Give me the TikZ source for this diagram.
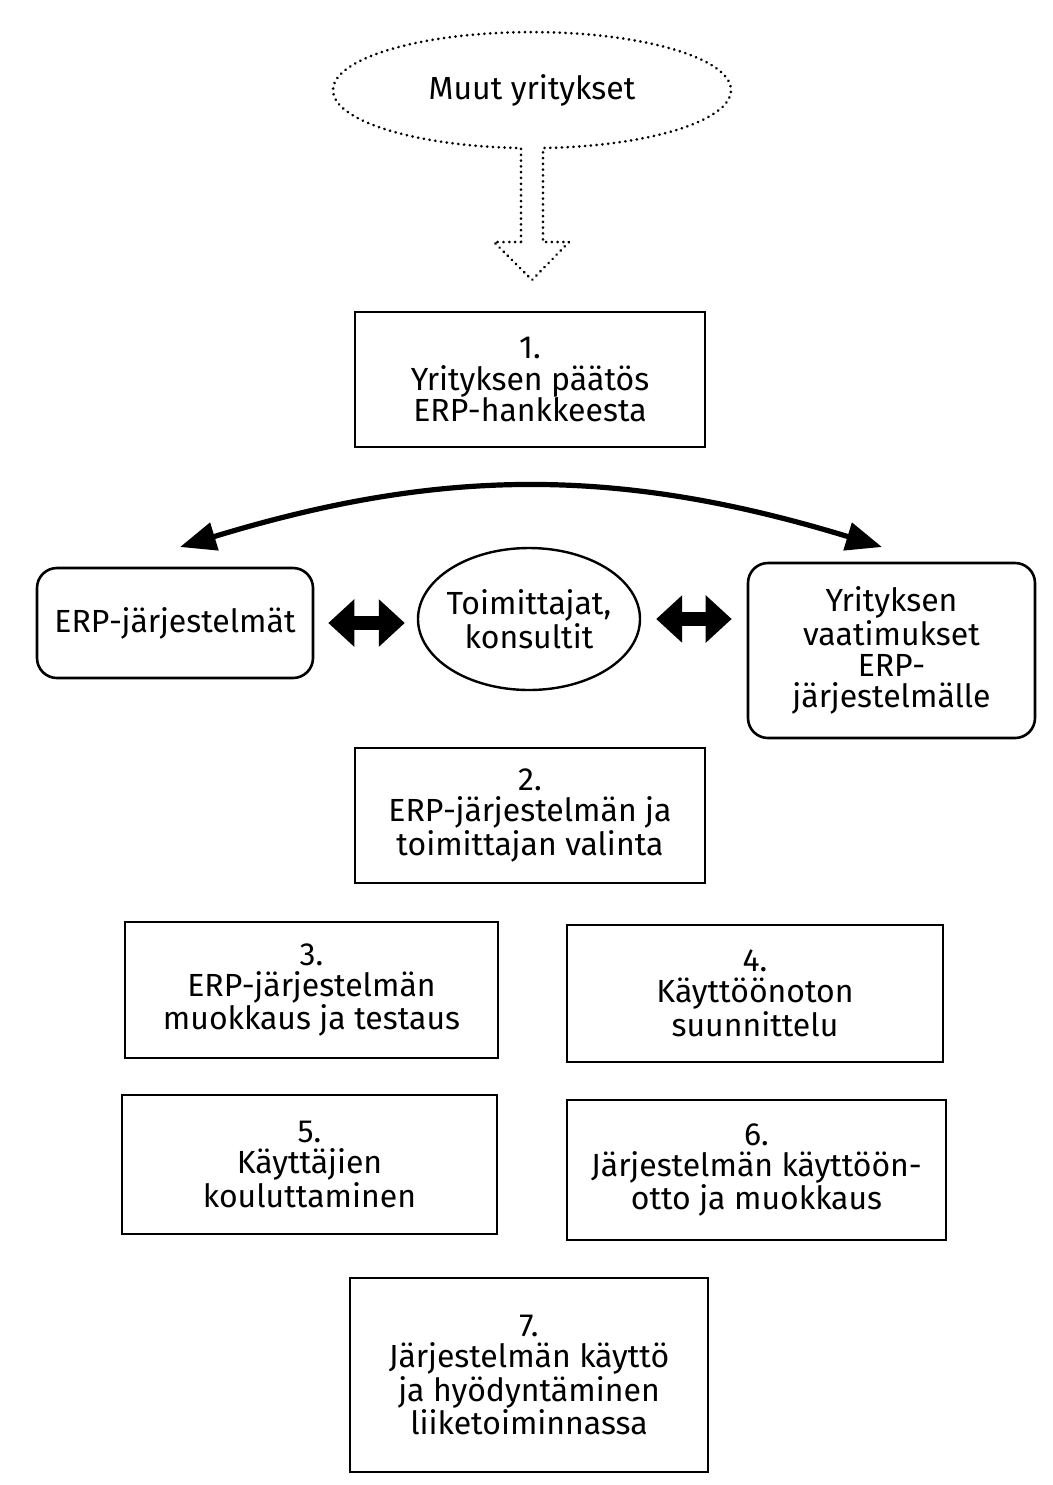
\documentclass[tikz,border=0pt]{standalone}
\usepackage{fontspec}
\setmainfont{Fira Sans}
\usetikzlibrary{shapes.geometric, arrows.meta}

\begin{document}
\begin{tikzpicture}[x=0.5pt, y=-0.5pt,
		every node/.style={font=\fontsize{16}{15.6}\selectfont, align=center},
		stepbox/.style={draw, line width=1.3pt, inner sep=0pt},
		roundbox/.style={stepbox, rounded corners=10pt},
		dots/.style={line width=1.4pt, dash pattern=on 0.1pt off 2.8pt, line cap=round},
		fatarrow/.style={line width=7pt, {Triangle[length=13pt,width=23pt]}-{Triangle[length=13pt,width=23pt]}},
		bowarrow/.style={line width=2.6pt, {Triangle[length=18pt,width=14pt]}-{Triangle[length=18pt,width=14pt]}}]
		\useasboundingbox (0,0) rectangle (1053,1485);

		\node[ellipse, minimum width=199pt, minimum height=58pt, inner sep=0pt] (muut) at (532,90) {Muut yritykset};
		\draw[dots] (521,242) -- (494,242) -- (532,280) -- (569,242) -- (543,242) -- (543,148)
			arc[start angle=86.83, end angle=-266.83, x radius=199, y radius=58] -- cycle;

		\foreach \nm/\x/\y/\w/\h/\txt in {
				s1/530/379.5/175/67.5/{1.\\Yrityksen päätös\\ERP-hankkeesta},
				s2/530/815.5/175/67.5/{2.\\ERP-järjestelmän ja\\toimittajan valinta},
				s3/311.5/990/186.5/68/{3.\\ERP-järjestelmän\\muokkaus ja testaus},
				s4/755/993.5/188/68.5/{4.\\Käyttöönoton\\suunnittelu},
				s5/309.5/1164.5/187.5/69.5/{5.\\Käyttäjien\\kouluttaminen},
				s6/756.5/1170/189.5/70/{6.\\Järjestelmän käyttöön-\\otto ja muokkaus},
				s7/529/1375/179/97/{7.\\Järjestelmän käyttö\\ja hyödyntäminen\\liiketoiminnassa}}{
			\node[stepbox, minimum width=\w pt, minimum height=\h pt] (\nm) at (\x,\y) {\txt};
		}

		\node[roundbox, minimum width=138pt, minimum height=55pt] (erp) at (175,623) {ERP-järjestelmät};
		\node[draw, ellipse, line width=1.2pt, minimum width=111pt, minimum height=71pt, inner sep=-6pt] (toim) at (529,619) {Toimittajat,\\konsultit};
		\node[roundbox, minimum width=143.5pt, minimum height=87.5pt] (req) at (891.5,650.5) {Yrityksen\\vaatimukset\\ERP-\\järjestelmälle};

		\draw[fatarrow, shorten <=7pt, shorten >=6pt] (erp.east) -- (erp.east -| toim.west);
		\draw[fatarrow, shorten <=7.5pt, shorten >=7.5pt] (toim.east) -- (toim.east -| req.west);

		\coordinate (bl) at (180,547);
		\coordinate (br) at (882,547);
		\draw[bowarrow] (bl) to[bend left=17] (br);
	\end{tikzpicture}
\end{document}
